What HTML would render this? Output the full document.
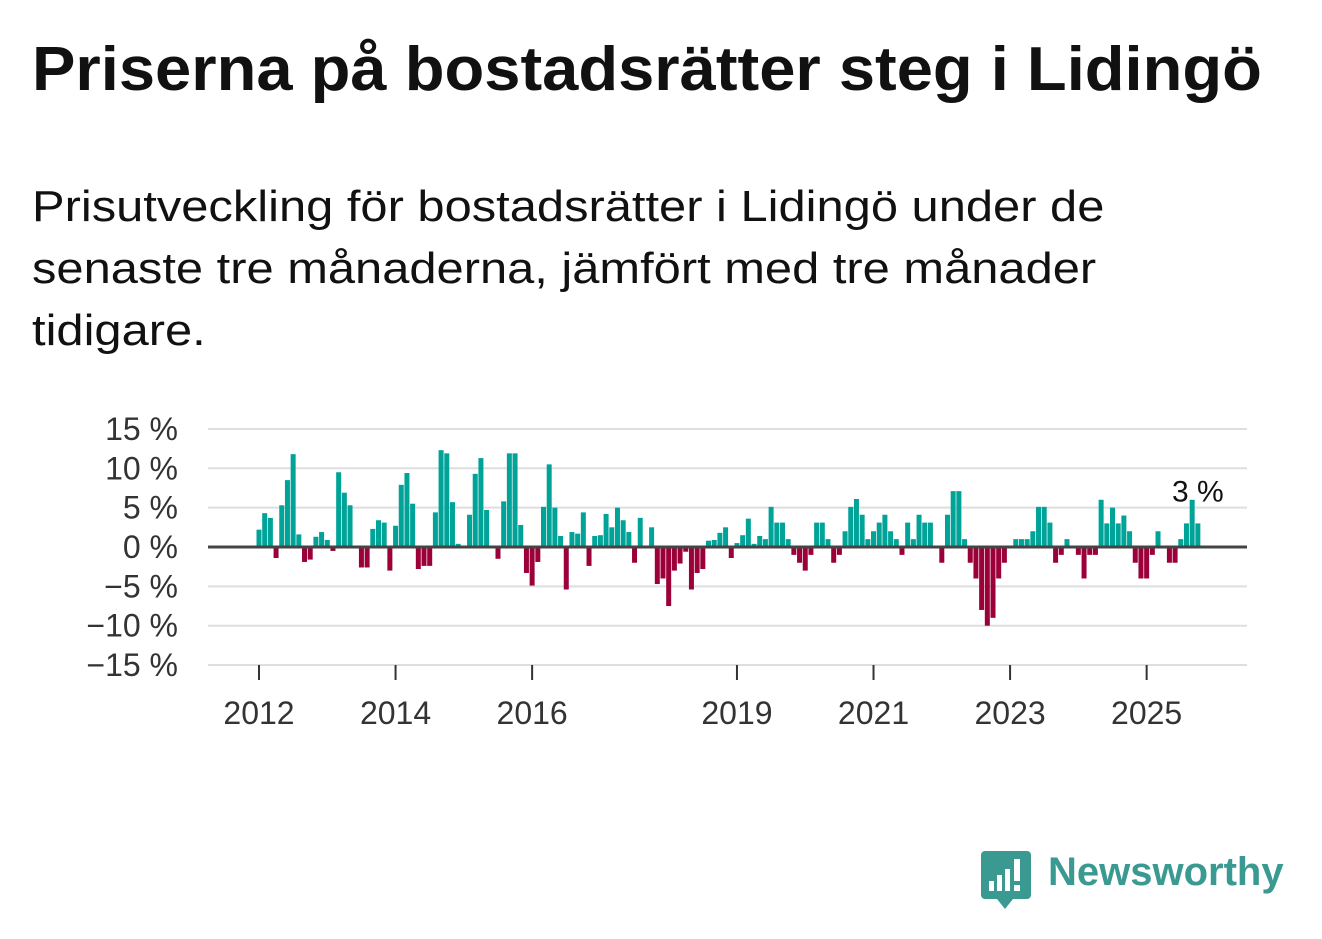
<!DOCTYPE html>
<html><head><meta charset="utf-8"><style>
body{margin:0;width:1322px;height:939px;background:#fff;font-family:"Liberation Sans",sans-serif;overflow:hidden;position:relative}
h1{position:absolute;left:32px;top:34px;margin:0;font-size:62px;font-weight:bold;color:#111;transform:scaleX(1.05);transform-origin:left top;white-space:nowrap}
.sub{position:absolute;left:32px;top:176px;margin:0;font-size:44px;line-height:62px;color:#111;width:1000px;transform:scaleX(1.11);transform-origin:left top}
</style></head><body>
<h1>Priserna på bostadsrätter steg i Lidingö</h1>
<p class="sub">Prisutveckling för bostadsrätter i Lidingö under de senaste tre månaderna, jämfört med tre månader tidigare.</p>
<svg id="chart" width="1322" height="939" style="position:absolute;left:0;top:0"></svg>
<script>
const values=[2.2,4.3,3.7,-1.4,5.3,8.5,11.8,1.6,-1.9,-1.6,1.3,1.9,0.9,-0.5,9.5,6.9,5.3,0,-2.6,-2.6,2.3,3.4,3.1,-3.0,2.7,7.9,9.4,5.5,-2.8,-2.4,-2.4,4.4,12.3,11.9,5.7,0.4,0,4.1,9.3,11.3,4.7,0,-1.5,5.8,11.9,11.9,2.8,-3.3,-4.9,-1.9,5.1,10.5,5.0,1.4,-5.4,1.9,1.7,4.4,-2.4,1.4,1.5,4.2,2.5,5.0,3.4,1.9,-2.0,3.7,0,2.5,-4.7,-4.0,-7.5,-3.0,-2.1,-0.6,-5.4,-3.3,-2.8,0.8,0.9,1.8,2.5,-1.4,0.5,1.5,3.6,0.4,1.4,1.0,5.1,3.1,3.1,1.0,-1.0,-2.0,-3.0,-1.0,3.1,3.1,1.0,-2.0,-1.0,2.0,5.1,6.1,4.1,1.0,2.0,3.1,4.1,2.0,1.0,-1.0,3.1,1.0,4.1,3.1,3.1,0,-2.0,4.1,7.1,7.1,1.0,-2.0,-4.0,-8.0,-10.0,-9.0,-4.0,-2.0,0,1.0,1.0,1.0,2.0,5.1,5.1,3.1,-2.0,-1.0,1.0,0,-1.0,-4.0,-1.0,-1.0,6.0,3.0,5.0,3.0,4.0,2.0,-2.0,-4.0,-4.0,-1.0,2.0,0,-2.0,-2.0,1.0,3.0,6.0,3.0];
const yTicks=[15,10,5,0,-5,-10,-15];
const yTickLabels=["15 %","10 %","5 %","0 %","\u22125 %","\u221210 %","\u221215 %"];
const xTickYears=[2012,2014,2016,2019,2021,2023,2025];
const lastLabel="3 %";
const svg=document.getElementById('chart');const NS='http://www.w3.org/2000/svg';
const y=v=>547-v*7.87;
const x=i=>259+i*5.69;
const xYear=yr=>x((yr-2012)*12);
function mk(t,a,p){const e=document.createElementNS(NS,t);for(const k in a)e.setAttribute(k,a[k]);(p||svg).appendChild(e);return e;}
yTicks.forEach((t,k)=>{if(t!==0){const l=mk('line',{x1:208,x2:1247,y1:y(t),y2:y(t),stroke:'#dedede','stroke-width':2});

}
const tx=mk('text',{x:178,y:y(t)+11,'text-anchor':'end','font-size':32,fill:'#333','font-family':'Liberation Sans, sans-serif'});tx.textContent=yTickLabels[k];

});
values.forEach((v,i)=>{if(v===0)return;const r=mk('rect',{x:x(i)-2.5,width:5,y:v>0?y(v):y(0),height:Math.abs(v)*7.87,fill:v>0?'#00a398':'#9b0039'});

});
const z=mk('line',{x1:208,x2:1247,y1:y(0),y2:y(0),stroke:'#444','stroke-width':3});


xTickYears.forEach(yr=>{const l=mk('line',{x1:xYear(yr),x2:xYear(yr),y1:665,y2:680,stroke:'#333','stroke-width':2});


const t=mk('text',{x:xYear(yr),y:724,'text-anchor':'middle','font-size':32,fill:'#333','font-family':'Liberation Sans, sans-serif'});t.textContent=yr;

});
const li=values.length-1;
const lb=mk('text',{x:x(li),y:y(values[li])-22,'text-anchor':'middle','font-size':30,fill:'#111',stroke:'#fff','stroke-width':6,'paint-order':'stroke','font-family':'Liberation Sans, sans-serif'});lb.textContent=lastLabel;


</script>
<svg width="50" height="58" style="position:absolute;left:981px;top:851px" viewBox="0 0 50 58">
<path d="M4 0h42a4 4 0 0 1 4 4v40a4 4 0 0 1-4 4H32l-8 10-8-10H4a4 4 0 0 1-4-4V4a4 4 0 0 1 4-4z" fill="#3a9a92"/>
<rect x="8" y="30" width="5" height="10" fill="#fff"/><rect x="16" y="24" width="5" height="16" fill="#fff"/><rect x="24" y="18" width="5" height="22" fill="#fff"/><rect x="33" y="8" width="6" height="22" fill="#fff"/><rect x="33" y="34" width="6" height="6" fill="#fff"/>
</svg>
<div style="position:absolute;left:1048px;top:850px;font-size:40px;font-weight:bold;color:#3a9a92">Newsworthy</div>
</body></html>
